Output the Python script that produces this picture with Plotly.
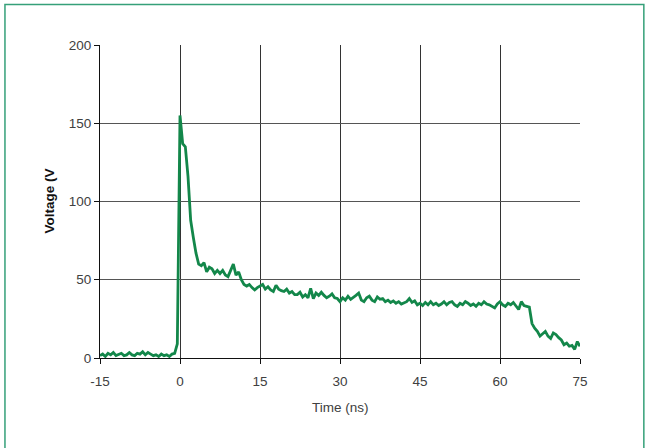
import plotly.graph_objects as go

# Time axis: sampled every 0.5 ns starting at -15 ns
t_start = -15.0
t_step = 0.5

voltage = [
    # -15 .. -1 ns baseline
    1.5, 2.5, 1.0, 3.0, 2.0, 3.5, 1.5, 2.5, 3.0, 1.5, 2.0, 3.5, 2.0, 1.5, 3.0,
    2.5, 4.0, 2.0, 3.5, 2.5, 1.5, 2.0, 1.0, 2.5, 1.5, 2.0, 1.0, 2.5, 3.0,
    # -0.5 .. 15
    9, 155, 137, 135, 116, 88, 77, 67, 60, 59, 61, 55, 58, 57, 54, 56, 54, 56,
    53, 52, 56, 60, 53, 55, 50, 47, 46, 47, 45, 43.5, 45, 46,
    # 15.5 .. 30
    47, 44, 45.5, 43.5, 42.5, 46.5, 44, 43, 42.5, 44, 41.5, 42.5, 40.5, 40.5,
    42, 39, 40.5, 38.5, 44.5, 38, 41.5, 40, 42, 40, 38.5, 39.5, 41, 38.5, 38, 36,
    # 30.5 .. 45
    38.5, 37, 39.5, 37.5, 38.5, 40, 41.5, 37, 36, 38.5, 39.5, 37, 36, 39, 37.5,
    38, 36, 37, 35.5, 36.5, 35, 36, 34.5, 35.5, 36, 38, 35.5, 36.5, 34, 35,
    # 45.5 .. 60
    33.5, 35.5, 34, 36, 34, 35, 33.5, 34.5, 36, 34, 35.5, 36, 34, 33, 35, 34,
    36, 35, 33.5, 34.5, 33, 35, 34, 36, 34.5, 34, 33, 32, 34.5, 36,
    # 60.5 .. 75
    34, 33, 35, 34, 35.5, 33, 31, 36, 33.5, 33, 32.5, 22, 19, 17, 14, 15.5, 17,
    14, 12.5, 16, 15, 13, 11.5, 8.5, 9.5, 7.5, 8, 5.5, 10.5, 7.5,
]
time_ns = [t_start + t_step * i for i in range(len(voltage))]

x_ticks = [-15, 0, 15, 30, 45, 60, 75]
y_ticks = [0, 50, 100, 150, 200]

FONT = "Liberation Sans, Arial, sans-serif"

fig = go.Figure()
fig.add_trace(go.Scatter(
    x=time_ns, y=voltage, mode="lines",
    line=dict(color="#13874a", width=2.8),
    hoverinfo="skip", showlegend=False,
))

fig.update_layout(
    width=646, height=448,
    margin=dict(l=100, r=66, t=45, b=90),
    paper_bgcolor="white", plot_bgcolor="white",
    font=dict(family=FONT, size=13.5, color="#404040"),
    xaxis=dict(
        range=[-15, 75], tickvals=x_ticks, ticktext=[str(v) for v in x_ticks],
        showgrid=True, gridcolor="#333333", gridwidth=1.2,
        zeroline=False, showline=True, linecolor="#111111", linewidth=1.2,
        ticks="outside", ticklen=5, tickcolor="#111111", tickwidth=1,
        ticklabelstandoff=6,
        tickfont=dict(size=13.5, color="#404040"),
    ),
    yaxis=dict(
        range=[0, 200], tickvals=y_ticks, ticktext=[str(v) for v in y_ticks],
        showgrid=True, gridcolor="#555555", gridwidth=1.2,
        zeroline=False, showline=True, linecolor="#111111", linewidth=1.2,
        ticks="outside", ticklen=5, tickcolor="#111111", tickwidth=1,
        tickfont=dict(size=13.5, color="#404040"),
    ),
    annotations=[
        dict(text="Time (ns)", xref="paper", yref="paper", x=0.5, y=-0.157,
             xanchor="center", yanchor="middle", showarrow=False,
             font=dict(family=FONT, size=13.5, color="#404040")),
        dict(text="<b>Voltage (V</b>", xref="paper", yref="paper", x=-0.106, y=0.5,
             xanchor="center", yanchor="middle", showarrow=False, textangle=-90,
             font=dict(family=FONT, size=13.5, color="#111111")),
    ],
    shapes=[
        dict(type="rect", xref="paper", yref="paper",
             x0=-0.198, x1=1.133, y0=-0.35, y1=1.1296,
             line=dict(color="#35a079", width=1.5), fillcolor="rgba(0,0,0,0)",
             layer="below"),
    ],
)

fig.write_html("out.html",
               config={"displayModeBar": False},
               post_script="document.body.style.margin='0';")
